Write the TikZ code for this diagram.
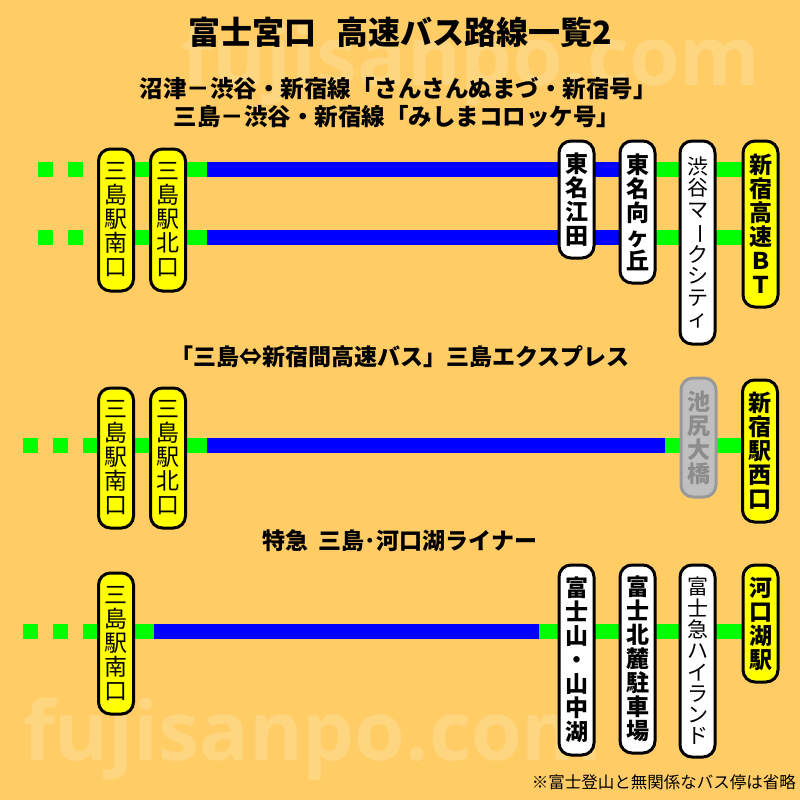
\documentclass[tikz,border=0pt]{standalone}
\usepackage{fontspec}
\usepackage{graphicx}
\newfontfamily\jp{Noto Sans CJK JP}
\newfontfamily\wmf{Open Sans}
\definecolor{bg}{HTML}{FFCC66}
\definecolor{wmc}{HTML}{FFD680}
\definecolor{lineG}{HTML}{00FF00}
\definecolor{lineB}{HTML}{0000FF}
\definecolor{stY}{HTML}{FFFF00}
\definecolor{grayfill}{HTML}{BFBFBF}
\definecolor{grayline}{HTML}{999999}
\definecolor{graytext}{HTML}{8C8C8C}
\pgfdeclarelayer{back}
\pgfdeclarelayer{lines}
\pgfsetlayers{back,lines,main}
\newcommand{\vbar}{\rotatebox[origin=c]{-90}{ー}}
\tikzset{
  stbox/.style={draw=black, line width=3pt, rounded corners=12pt, minimum width=35pt,
    inner sep=0pt, align=center, anchor=north, font=\jp\fontsize{23}{24}\selectfont},
  ybox/.style={stbox, fill=stY},
  wbox/.style={stbox, fill=white},
  gbox/.style={stbox, fill=grayfill, draw=grayline, text=graytext},
  bld/.style={font=\jp\bfseries\fontsize{23}{24}\selectfont},
  sml/.style={font=\jp\fontsize{21}{21.3}\selectfont},
  gline/.style={line width=15pt, draw=lineG},
  bline/.style={line width=15pt, draw=lineB},
  dline/.style={gline, dash pattern=on 15pt off 15pt},
  ttl/.style={inner sep=0pt, font=\jp\bfseries\fontsize{23}{23}\selectfont},
  wmark/.style={inner sep=0pt, anchor=base west, text=wmc, font=\wmf\bfseries\fontsize{82}{82}\selectfont}
}
\begin{document}
\begin{tikzpicture}[x=1pt,y=-1pt]
\useasboundingbox (0,0) rectangle (800,800);
\begin{pgfonlayer}{back}
  \fill[bg] (0,0) rectangle (800,800);
  \node[wmark] (wm1) at (181,85) {fujisanpo.com};
  \node[wmark] (wm2) at (23,760) {fujisanpo.com};
\end{pgfonlayer}

% titles
\node[inner sep=0pt, font=\jp\bfseries\fontsize{32}{32}\selectfont] (title) at (400,32) {富士宮口\hspace{20pt}高速バス路線一覧2};
\node[ttl, font=\jp\bfseries\fontsize{23.5}{23.5}\selectfont] (sub1) at (398,88) {沼津－渋谷・新宿線「さんさんぬまづ・新宿号」};
\node[ttl, font=\jp\bfseries\fontsize{23.5}{23.5}\selectfont] (sub2) at (397,117) {三島－渋谷・新宿線「みしまコロッケ号」};
\node[ttl] (t2) at (400,357) {「三島⇔新宿間高速バス」三島エクスプレス};
\node[ttl] (t3) at (400,541) {特急\hspace{10pt}三島･河口湖ライナー};
\node[inner sep=0pt, anchor=east, font=\jp\fontsize{16.5}{16.5}\selectfont] (note) at (796,782) {※富士登山と無関係なバス停は省略};

% section 1 stations
\node[ybox, minimum height=142pt] (s1a) at (116,147.5) {三\\島\\駅\\南\\口};
\node[ybox, minimum height=142pt] (s1b) at (168,147.5) {三\\島\\駅\\北\\口};
\node[wbox, bld, minimum height=117pt] (s1c) at (576.5,139.5) {東\\名\\江\\田};
\node[wbox, bld, minimum height=142pt] (s1d) at (637.5,139.5) {東\\名\\向\\ヶ\\丘};
\node[wbox, sml, minimum height=203pt] (s1e) at (697.5,139.5) {渋\\谷\\マ\\\vbar\\ク\\シ\\テ\\ィ};
\node[ybox, bld, minimum height=166pt] (s1f) at (760.5,139.5) {新\\宿\\高\\速\\Ｂ\\Ｔ};

% section 2 stations
\node[ybox, minimum height=140pt] (s2a) at (116,386.5) {三\\島\\駅\\南\\口};
\node[ybox, minimum height=140pt] (s2b) at (168,386.5) {三\\島\\駅\\北\\口};
\node[gbox, bld, minimum height=119pt] (s2c) at (698.5,376.5) {池\\尻\\大\\橋};
\node[ybox, bld, minimum height=142pt] (s2d) at (760,378.5) {新\\宿\\駅\\西\\口};

% section 3 stations
\node[ybox, minimum height=141pt] (s3a) at (116,571.5) {三\\島\\駅\\南\\口};
\node[wbox, bld, minimum height=190pt] (s3b) at (576.5,563.5) {富\\士\\山\\・\\山\\中\\湖};
\node[wbox, bld, minimum height=188pt] (s3c) at (637.5,563.5) {富\\士\\北\\麓\\駐\\車\\場};
\node[wbox, sml, minimum height=192pt] (s3d) at (697.5,563.5) {富\\士\\急\\ハ\\イ\\ラ\\ン\\ド};
\node[ybox, bld, minimum height=117pt] (s3e) at (760.5,563.5) {河\\口\\湖\\駅};

% line coordinates
\coordinate (d1) at (38,169.5);
\coordinate (b1) at (207,169.5);
\coordinate (d2) at (38,237.5);
\coordinate (b2) at (207,237.5);
\coordinate (d3) at (23,445.5);
\coordinate (b3) at (207,445.5);
\coordinate (e3) at (665,445.5);
\coordinate (d4) at (23,631);
\coordinate (b4) at (154,631);
\coordinate (e4) at (539,631);

\begin{pgfonlayer}{lines}
  % section 1, upper line
  \draw[dline] (d1) -- (d1 -| s1a.west);
  \draw[gline] (d1 -| s1a.center) -- (b1);
  \draw[bline] (b1) -- (b1 -| s1d.center);
  \draw[gline] (b1 -| s1d.center) -- (b1 -| s1f.center);
  % section 1, lower line
  \draw[dline] (d2) -- (d2 -| s1a.west);
  \draw[gline] (d2 -| s1a.center) -- (b2);
  \draw[bline] (b2) -- (b2 -| s1d.center);
  \draw[gline] (b2 -| s1d.center) -- (b2 -| s1f.center);
  % section 2
  \draw[dline] (d3) -- (d3 -| s2a.west);
  \draw[gline] (d3 -| s2a.center) -- (b3);
  \draw[bline] (b3) -- (e3);
  \draw[gline] (e3) -- (e3 -| s2d.center);
  % section 3
  \draw[dline] (d4) -- (d4 -| s3a.west);
  \draw[gline] (d4 -| s3a.center) -- (b4);
  \draw[bline] (b4) -- (e4);
  \draw[gline] (e4) -- (e4 -| s3e.center);
\end{pgfonlayer}
\end{tikzpicture}
\end{document}
